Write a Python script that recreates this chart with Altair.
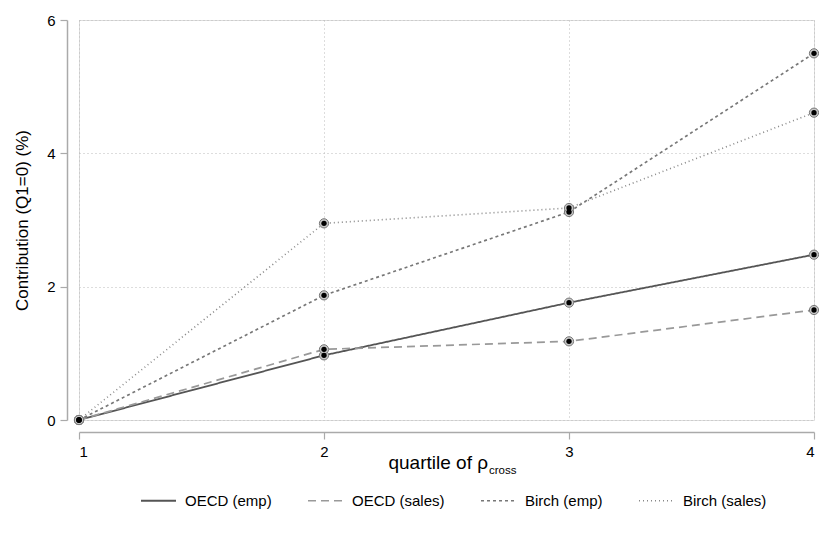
import altair as alt
import pandas as pd

quartiles = [1, 2, 3, 4]
series = ["OECD (emp)", "OECD (sales)", "Birch (emp)", "Birch (sales)"]
oecd_emp = [0.0, 0.97, 1.76, 2.48]
oecd_sales = [0.0, 1.06, 1.18, 1.65]
birch_emp = [0.0, 1.87, 3.12, 5.50]
birch_sales = [0.0, 2.95, 3.18, 4.61]
y_ticks = [0, 2, 4, 6]

rows = []
for name, vals in zip(series, [oecd_emp, oecd_sales, birch_emp, birch_sales]):
    for q, v in zip(quartiles, vals):
        rows.append({"q": q, "v": v, "s": name})
df = pd.DataFrame(rows)

FONT = "Liberation Sans"
GRID = "#bbbbbb"

x = alt.X("q:Q", scale=alt.Scale(domain=[1, 4], nice=False, zero=False),
          axis=alt.Axis(values=quartiles, title=None, offset=12, format="d",
                        grid=True, gridDash=[1, 3], gridColor=GRID,
                        domainColor="#aaaaaa", domainWidth=1.5,
                        tickColor="#aaaaaa", tickSize=7, tickWidth=1.2,
                        labelFontSize=15, labelFont=FONT, labelColor="#000",
                        labelPadding=5))
y = alt.Y("v:Q", scale=alt.Scale(domain=[0, 6], nice=False),
          axis=alt.Axis(values=y_ticks, title="Contribution (Q1=0) (%)", offset=12,
                        format="d",
                        grid=True, gridDash=[1, 3], gridColor=GRID,
                        domainColor="#aaaaaa", domainWidth=1.5,
                        tickColor="#aaaaaa", tickSize=7, tickWidth=1.2,
                        labelFontSize=15, labelFont=FONT, labelColor="#000",
                        labelPadding=5, titleFontSize=17, titleFont=FONT,
                        titleFontWeight="normal", titleColor="#000",
                        titlePadding=15))

color = alt.Color("s:N", sort=series,
                  scale=alt.Scale(domain=series, range=["#555555", "#999999", "#777777", "#888888"]),
                  legend=alt.Legend(title=None, orient="none", direction="horizontal",
                                    legendX=61, legendY=462, symbolType="stroke",
                                    symbolSize=1225, symbolStrokeWidth=1.5,
                                    labelFontSize=15, labelFont=FONT, labelColor="#000",
                                    labelOffset=8, columnPadding=32))
dash = alt.StrokeDash("s:N", sort=series,
                      scale=alt.Scale(domain=series, range=[[1, 0], [8, 5], [3, 3], [1, 3]]),
                      legend=None)
width = alt.StrokeWidth("s:N", scale=alt.Scale(domain=series, range=[1.8, 1.6, 1.8, 1.2]),
                        legend=None)

lines = alt.Chart(df).mark_line().encode(x=x, y=y, color=color, strokeDash=dash,
                                         strokeWidth=width, order="q:Q")
outer = alt.Chart(df).mark_point(shape="circle", filled=True, size=85, fill="#c8c8c8",
                                 stroke="#777777", strokeWidth=1, opacity=1).encode(x="q:Q", y="v:Q")
inner = alt.Chart(df).mark_point(shape="circle", filled=True, size=28, color="#000000",
                                 opacity=1).encode(x="q:Q", y="v:Q")

title_df = pd.DataFrame({"t": ["quartile of ρ"], "sub": ["cross"]})
t_main = alt.Chart(title_df).mark_text(align="right", baseline="alphabetic", fontSize=19,
                                       font=FONT, color="#000").encode(
    text="t:N", x=alt.value(409), y=alt.value(449))
t_sub = alt.Chart(title_df).mark_text(align="left", baseline="alphabetic", fontSize=11.5,
                                      font=FONT, color="#000").encode(
    text="sub:N", x=alt.value(410), y=alt.value(454))

chart = alt.layer(lines, outer, inner, t_main, t_sub).properties(
    width=735, height=400,
    autosize=alt.AutoSizeParams(type="none"),
    padding={"left": 71, "top": 12, "right": 5, "bottom": 109},
).configure_view(stroke=None).configure(background="white")

chart.save("out.html", embed_options={"renderer": "svg", "actions": False})
